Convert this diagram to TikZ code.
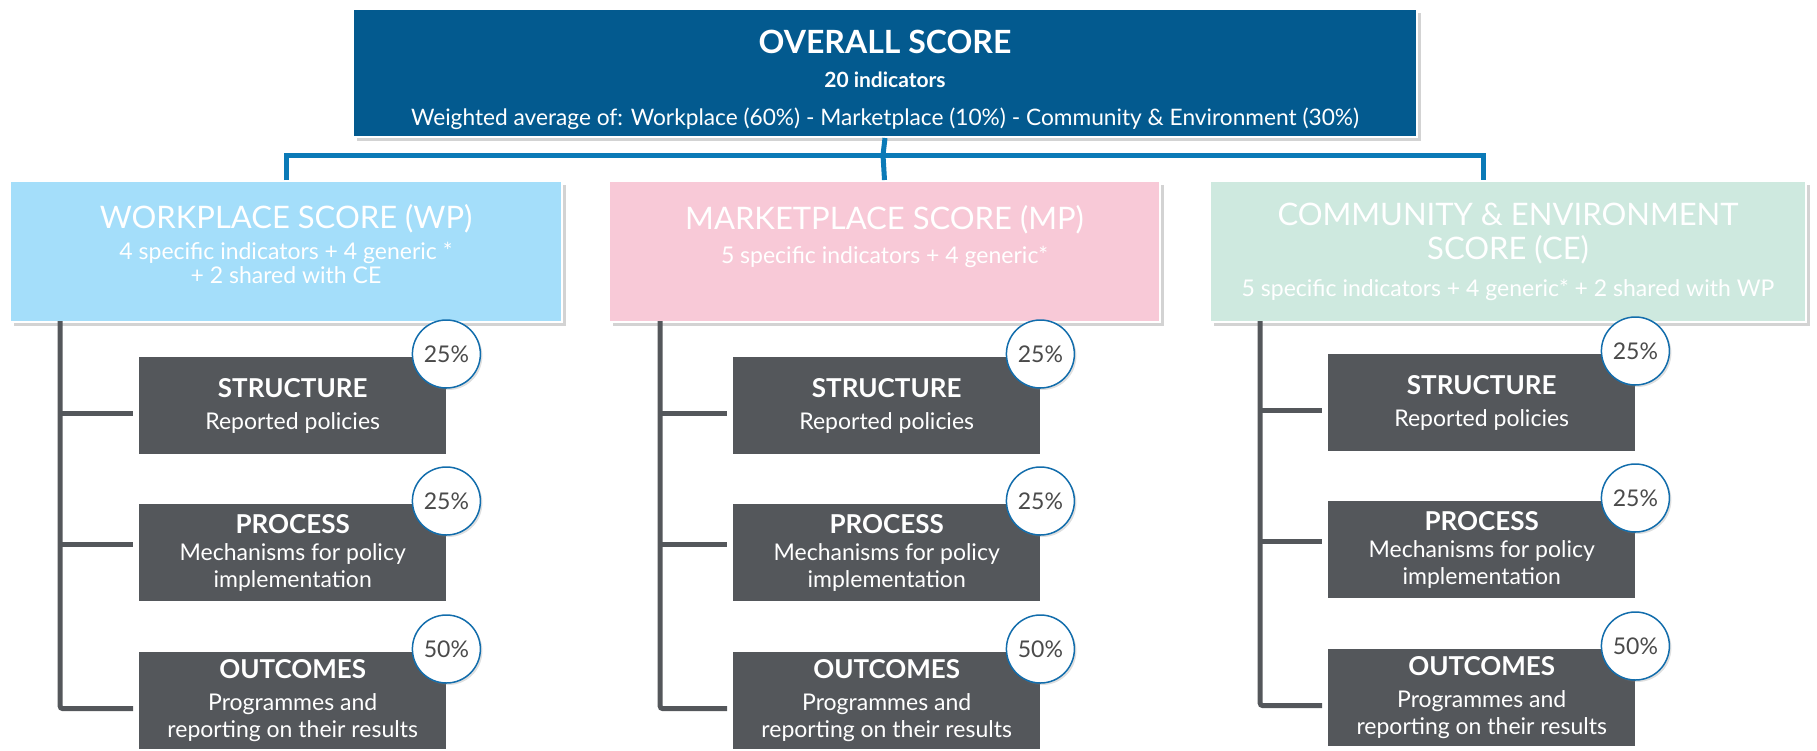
\documentclass[tikz,border=0pt]{standalone}
\usepackage{fontspec}
\setmainfont{Lato}
\usetikzlibrary{shadows}

\definecolor{overallblue}{RGB}{3,90,143}
\definecolor{busblue}{RGB}{11,122,183}
\definecolor{wpblue}{RGB}{164,222,250}
\definecolor{mppink}{RGB}{248,201,215}
\definecolor{cemint}{RGB}{206,233,223}
\definecolor{pillargrey}{RGB}{84,87,91}
\definecolor{ringblue}{RGB}{18,109,172}
\definecolor{pctgrey}{RGB}{74,74,74}

\begin{document}
\begin{tikzpicture}[x=1pt,y=-1pt,
    scorebox/.style={draw=white, line width=2pt, text=white, align=center, anchor=north west,
        drop shadow={shadow xshift=4pt, shadow yshift=-4pt, opacity=.35}},
    pillar/.style={fill=pillargrey, text=white, align=center, anchor=north west,
        minimum width=307pt, minimum height=97pt, font=\fontsize{23}{27}\selectfont},
    weight/.style={circle, draw=ringblue, line width=1.5pt, fill=white, text=pctgrey,
        minimum size=68pt, inner sep=0pt, font=\fontsize{23}{26}\selectfont,
        drop shadow={shadow xshift=2pt, shadow yshift=-2pt, opacity=.25}},
    bus/.style={draw=busblue, line width=5pt},
    trunk/.style={draw=pillargrey, line width=5pt, rounded corners=3pt}]
    \useasboundingbox (0,0) rectangle (1817,750);

    % overall score
    \node[scorebox, fill=overallblue, minimum width=1064pt, minimum height=128pt,
        font=\fontsize{22.7}{34}\selectfont] (overall) at (352,8)
        {\rule{0pt}{38pt}{\fontsize{32}{36}\selectfont\bfseries OVERALL SCORE}\\
         {\fontsize{21}{34}\selectfont\bfseries 20 indicators}\\[4pt]
         Weighted average of: Workplace (60\%) - Marketplace (10\%) - Community \& Environment (30\%)};

    % the three scores
    \node[scorebox, fill=wpblue, minimum width=552pt, minimum height=141pt,
        font=\fontsize{23}{24}\selectfont] (wp) at (9,180)
        {{\fontsize{31}{34}\selectfont WORKPLACE SCORE (WP)}\\[7pt]
         4 specific indicators + 4 generic *\\
         + 2 shared with CE\\[-8pt]\mbox{}};
    \node[scorebox, fill=mppink, minimum width=551pt, minimum height=141pt,
        font=\fontsize{23}{25}\selectfont] (mp) at (608,180)
        {{\fontsize{31}{34}\selectfont MARKETPLACE SCORE (MP)}\\[9pt]
         5 specific indicators + 4 generic*\\[10pt]
         \mbox{}};
    \node[scorebox, fill=cemint, minimum width=596pt, minimum height=141pt,
        font=\fontsize{23}{25}\selectfont] (ce) at (1209,180)
        {{\fontsize{31}{34}\selectfont COMMUNITY \& ENVIRONMENT}\\[9pt]
         {\fontsize{31}{34}\selectfont SCORE (CE)}\\[12pt]
         5 specific indicators + 4 generic* + 2 shared with WP};

    \coordinate (bus) at (883,155);
    \coordinate (cetap) at (1483,180);
    \draw[bus] (overall.south) -- (bus);
    \draw[bus] (wp.north) -- (wp.north |- bus) -- (cetap |- bus) -- (cetap);
    \draw[bus] (bus) -- (mp.north);

    % structure, process, outcomes under each score
    \foreach \col/\x/\tx/\dy in {wp/139/60/0, mp/733/660/0, ce/1328/1260/-3}{
        \node[pillar] (\col-s) at (\x,357+\dy)
            {{\fontsize{26}{27}\selectfont\bfseries STRUCTURE}\\[5pt] Reported policies};
        \node[pillar] (\col-p) at (\x,504+\dy)
            {{\fontsize{26}{27}\selectfont\bfseries PROCESS}\\ Mechanisms for policy\\ implementation};
        \node[pillar] (\col-o) at (\x,652+\dy)
            {{\fontsize{26}{27}\selectfont\bfseries OUTCOMES}\\[5pt] Programmes and\\ reporting on their results};

        \coordinate (\col-top) at (\tx,321);
        \draw[trunk] (\col-top) |- ([shift={(-6pt,-8pt)}]\col-o.west);
        \draw[trunk] ([yshift=-8pt]\col-s.west -| \col-top) -- ([shift={(-6pt,-8pt)}]\col-s.west);
        \draw[trunk] ([yshift=8pt]\col-p.west -| \col-top) -- ([shift={(-6pt,8pt)}]\col-p.west);

        \node[weight] (\col-sw) at ([yshift=3pt]\col-s.north east) {25\%};
        \node[weight] (\col-pw) at ([yshift=3pt]\col-p.north east) {25\%};
        \node[weight] (\col-ow) at ([yshift=3pt]\col-o.north east) {50\%};
    }
\end{tikzpicture}
\end{document}
